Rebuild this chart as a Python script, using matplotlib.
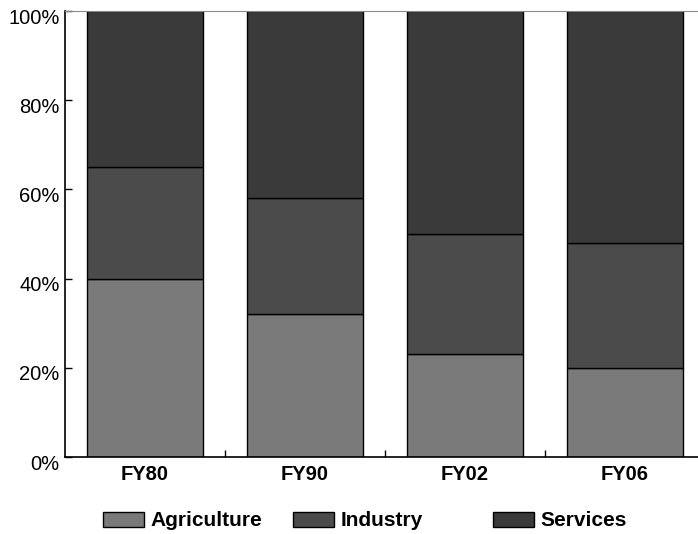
import matplotlib
matplotlib.use("Agg")
import matplotlib.pyplot as plt
import matplotlib.transforms as mtransforms
import numpy as np

YEARS = ["FY80", "FY90", "FY02", "FY06"]
AGRICULTURE = [40, 32, 23, 20]
INDUSTRY = [25, 26, 27, 28]
SERVICES = [35, 42, 50, 52]

SECTORS = ["Agriculture", "Industry", "Services"]
COLORS = ["#7a7a7a", "#4b4b4b", "#3a3a3a"]

plt.rcParams["font.family"] = ["Liberation Sans", "DejaVu Sans"]

fig = plt.figure(figsize=(6.98, 5.34), dpi=100)
W, H = 698, 534
# axes runs a little past the right edge of the canvas
ax = fig.add_axes([65 / W, 77 / H, 640 / W, 446 / H])

x = np.arange(len(YEARS))
bottom = np.zeros(len(YEARS))
handles = []
for name, vals, color in zip(SECTORS, [AGRICULTURE, INDUSTRY, SERVICES], COLORS):
    bars = ax.bar(x, vals, width=0.72, bottom=bottom, color=color,
                  edgecolor="black", linewidth=1.0, label=name)
    handles.append(bars)
    bottom += np.array(vals)

ax.set_xlim(-0.5, len(YEARS) - 0.5)
ax.set_ylim(0, 100)

ax.spines["right"].set_visible(False)
ax.spines["top"].set_color("#8a8a8a")
ax.spines["top"].set_linewidth(0.8)
ax.spines["left"].set_linewidth(1.2)
ax.spines["bottom"].set_linewidth(1.2)

ax.set_yticks(range(0, 101, 20))
ax.set_yticklabels([f"{v}%" for v in range(0, 101, 20)], fontsize=14.5)
ax.tick_params(axis="y", direction="in", length=5, width=1, pad=4)
offset = mtransforms.ScaledTranslation(0, -5 / 100, fig.dpi_scale_trans)
for lbl in ax.get_yticklabels():
    lbl.set_transform(lbl.get_transform() + offset)

# ticks between categories, labels centred under bars
ax.set_xticks(x[:-1] + 0.5)
ax.set_xticklabels([])
ax.tick_params(axis="x", direction="in", length=5, width=1)
ax.set_xticks(x, minor=True)
ax.set_xticklabels(YEARS, minor=True, fontsize=14.5, fontweight="bold")
ax.tick_params(axis="x", which="minor", length=0, pad=6)

# one legend entry per sector, spaced evenly along the bottom
for handle, name, left in zip(handles, SECTORS, [103, 293, 493]):
    leg = fig.legend(handles=[handle], labels=[name], loc="center left",
                     bbox_to_anchor=(left / W, 1 - 521 / H), frameon=False,
                     prop={"size": 15, "weight": "bold"}, borderpad=0,
                     borderaxespad=0, handlelength=1.95, handleheight=0.7,
                     handletextpad=0.35)

fig.savefig("out.png", dpi=100)
